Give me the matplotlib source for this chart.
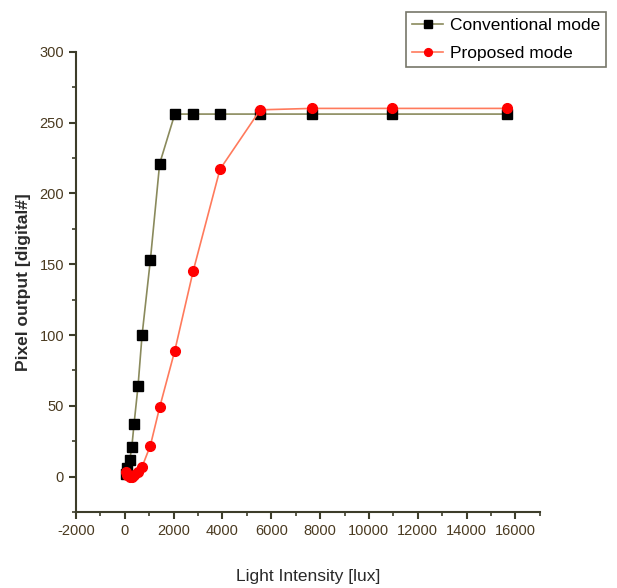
import matplotlib
matplotlib.use("Agg")
import matplotlib.pyplot as plt
from matplotlib.ticker import MultipleLocator

light_lux = [50, 100, 205, 290, 380, 545, 710, 1050, 1430, 2050, 2800, 3900, 5550, 7650, 10950, 15650]
conventional = [2, 6, 12, 21, 37, 64, 100, 153, 221, 256, 256, 256, 256, 256, 256, 256]
proposed = [3, 1, 0, 0, 1, 3, 7, 22, 49, 89, 145, 217, 259, 260, 260, 260]

plt.rcParams['font.family'] = ['Liberation Sans Narrow', 'Liberation Sans', 'DejaVu Sans']
plt.rcParams['axes.unicode_minus'] = False

fig = plt.figure(figsize=(6.17, 5.88), dpi=100)
ax = fig.add_axes([0.123, 0.129, 0.752, 0.783])

ax.plot(light_lux, conventional, color='#8a8a5c', lw=1.2, marker='s', ms=6.5,
        mfc='black', mec='black', label='Conventional mode', zorder=3)
ax.plot(light_lux, proposed, color='#ff7a5c', lw=1.2, marker='o', ms=7,
        mfc='red', mec='red', label='Proposed mode', zorder=4)

ax.set_xlim(-2000, 17000)
ax.set_ylim(-25, 300)
ax.xaxis.set_major_locator(MultipleLocator(2000))
ax.xaxis.set_minor_locator(MultipleLocator(1000))
ax.yaxis.set_major_locator(MultipleLocator(50))
ax.yaxis.set_minor_locator(MultipleLocator(25))

for s in ['top', 'right']:
    ax.spines[s].set_visible(False)
for s in ['left', 'bottom']:
    ax.spines[s].set_color('#3d3d2a')
    ax.spines[s].set_linewidth(1.5)

ax.tick_params(which='major', direction='out', length=5, width=1.5, colors='#3d3d2a',
               labelsize=10.5, labelcolor='#4a3a20')
ax.tick_params(which='minor', direction='out', length=3, width=1.2, colors='#3d3d2a')

ax.set_xlabel('Light Intensity [lux]', fontsize=12.5, color='#2a2a2a', labelpad=22)
ax.set_ylabel('Pixel output [digital#]', fontsize=12.5, fontweight='bold', color='#2a2a2a', labelpad=6)

leg = fig.legend(loc='upper right', bbox_to_anchor=(0.997, 0.995), fontsize=12.5,
                 frameon=True, fancybox=False, edgecolor='#555544', handlelength=1.8,
                 borderpad=0.35, labelspacing=0.75, handletextpad=0.4, markerscale=0.8)
leg.get_frame().set_linewidth(1.2)

fig.savefig('out.png', dpi=100)
